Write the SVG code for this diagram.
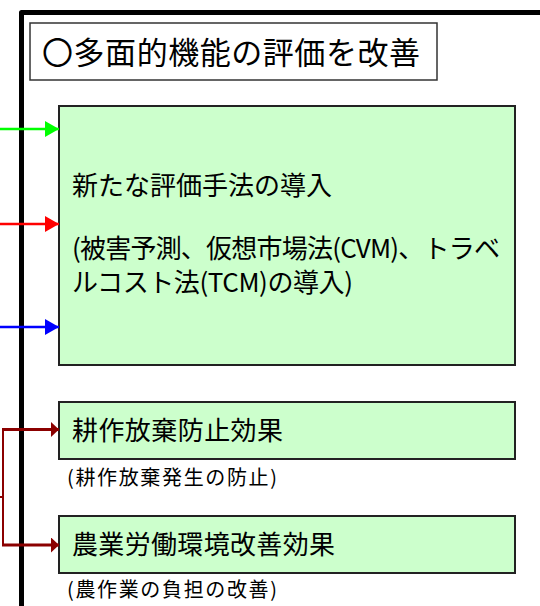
<svg xmlns="http://www.w3.org/2000/svg" width="540" height="606" viewBox="0 0 540 606">
<style>
  text { font-family: "Noto Sans CJK JP", "Noto Sans", sans-serif; fill: #000; }
  .title { font-size: 31px; }
  .main { font-size: 26px; }
  .sub { font-size: 20px; }
  .box { fill: #ccffcc; stroke: #222; stroke-width: 2; }
  .tbox { fill: #fff; stroke: #333; stroke-width: 1.5; }
  .frame { fill: none; stroke: #000; stroke-width: 5; stroke-linejoin: round; }
</style>
<defs>
  <marker id="agreen" markerUnits="userSpaceOnUse" markerWidth="14" markerHeight="16" viewBox="0 0 14 16" refX="14" refY="8" orient="auto">
    <path d="M0,0 L14,8 L0,16 z" fill="#00ff00"/>
  </marker>
  <marker id="ared" markerUnits="userSpaceOnUse" markerWidth="14" markerHeight="16" viewBox="0 0 14 16" refX="14" refY="8" orient="auto">
    <path d="M0,0 L14,8 L0,16 z" fill="#ff0000"/>
  </marker>
  <marker id="ablue" markerUnits="userSpaceOnUse" markerWidth="14" markerHeight="16" viewBox="0 0 14 16" refX="14" refY="8" orient="auto">
    <path d="M0,0 L14,8 L0,16 z" fill="#0000ff"/>
  </marker>
  <marker id="adred" markerUnits="userSpaceOnUse" markerWidth="8" markerHeight="15" viewBox="0 0 8 15" refX="8" refY="7.5" orient="auto">
    <path d="M0,0 L8,7.5 L0,15 z" fill="#8b0000"/>
  </marker>
</defs>

<g id="frame">
  <path class="frame" d="M21.5,612 V12.5 H545"/>
</g>

<g id="title">
  <rect class="tbox" x="30" y="23" width="407" height="57"/>
  <text class="title" x="42" y="64" textLength="378" lengthAdjust="spacing">〇多面的機能の評価を改善</text>
</g>

<g id="node-eval">
  <rect class="box" x="59" y="106" width="456" height="259"/>
  <text class="main" x="72" y="195" textLength="260" lengthAdjust="spacing">新たな評価手法の導入</text>
  <text class="main" x="72" y="258" textLength="428" lengthAdjust="spacing">(被害予測、仮想市場法(CVM)、トラベ</text>
  <text class="main" x="72" y="292" textLength="281" lengthAdjust="spacing">ルコスト法(TCM)の導入)</text>
</g>

<g id="node-abandon">
  <rect class="box" x="59" y="402" width="456" height="57"/>
  <text class="main" x="72" y="440" textLength="211" lengthAdjust="spacing">耕作放棄防止効果</text>
  <text class="sub" x="67" y="485" textLength="210" lengthAdjust="spacing">(耕作放棄発生の防止)</text>
</g>

<g id="node-labor">
  <rect class="box" x="59" y="516" width="456" height="57"/>
  <text class="main" x="72" y="554" textLength="263" lengthAdjust="spacing">農業労働環境改善効果</text>
  <text class="sub" x="67" y="597" textLength="210" lengthAdjust="spacing">(農作業の負担の改善)</text>
</g>

<g id="connectors" fill="none">
  <line x1="0" y1="129" x2="59" y2="129" stroke="#00ff00" stroke-width="2.5" marker-end="url(#agreen)"/>
  <line x1="0" y1="224" x2="59" y2="224" stroke="#ff0000" stroke-width="2.5" marker-end="url(#ared)"/>
  <line x1="0" y1="327" x2="59" y2="327" stroke="#0000ff" stroke-width="2.5" marker-end="url(#ablue)"/>
  <path d="M3,429 V545" stroke="#8b0000" stroke-width="2"/>
  <path d="M0,497 H3" stroke="#8b0000" stroke-width="2"/>
  <line x1="2" y1="429.5" x2="59" y2="429.5" stroke="#8b0000" stroke-width="3" marker-end="url(#adred)"/>
  <line x1="2" y1="545" x2="59" y2="545" stroke="#8b0000" stroke-width="3" marker-end="url(#adred)"/>
</g>
</svg>
